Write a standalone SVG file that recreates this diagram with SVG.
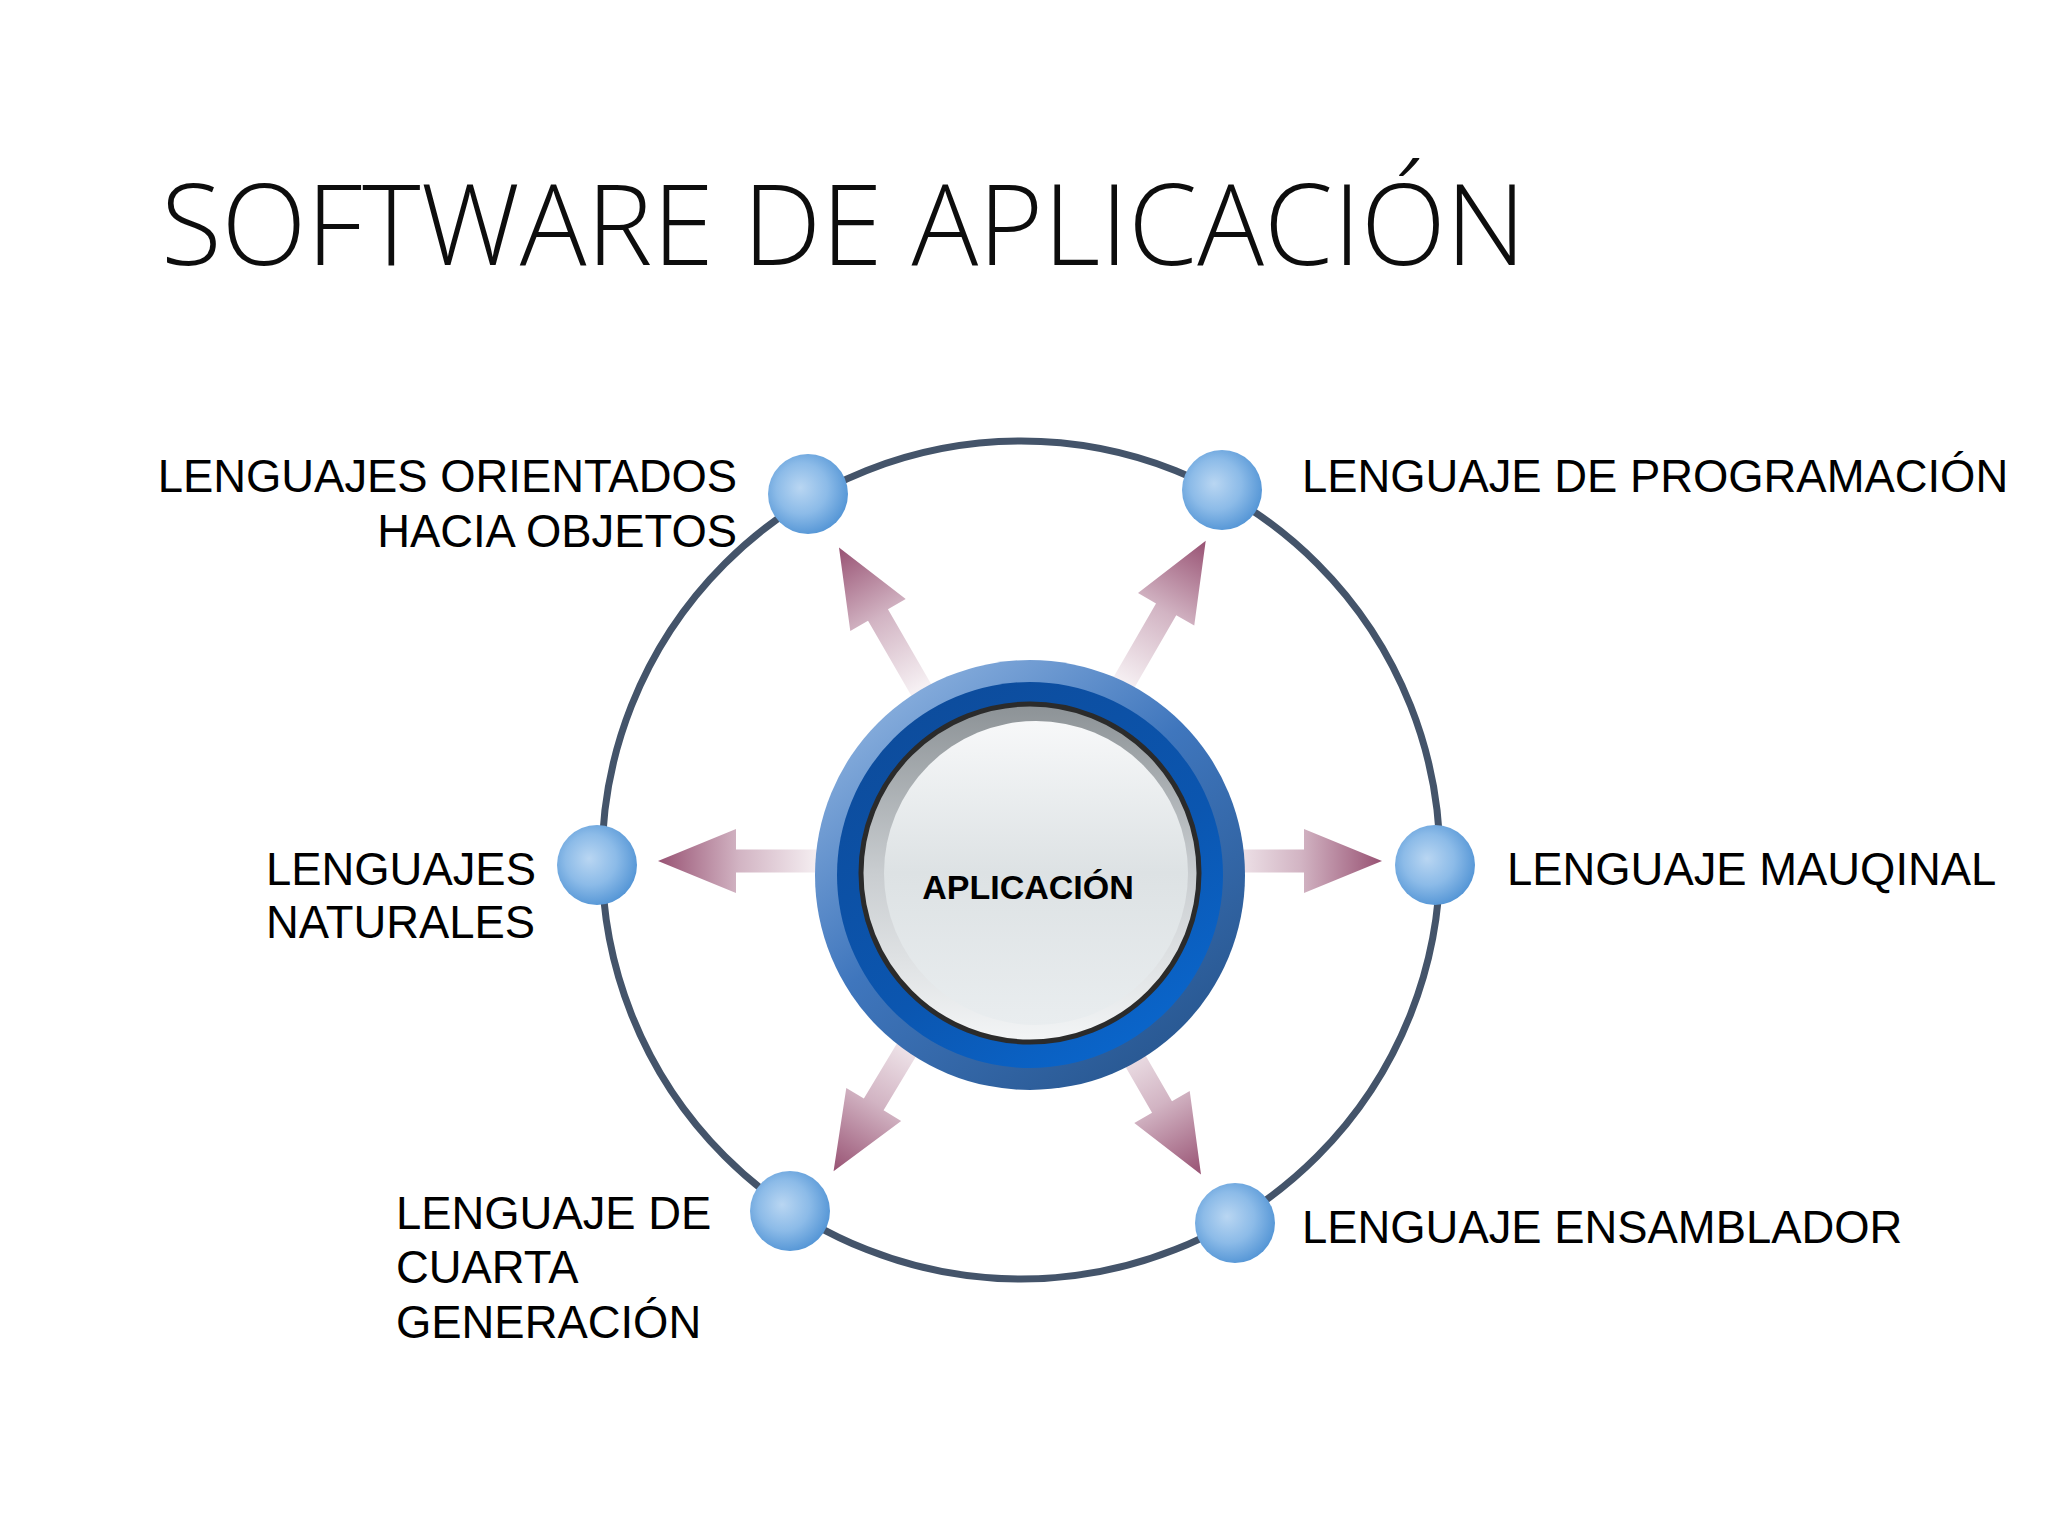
<svg xmlns="http://www.w3.org/2000/svg" width="2048" height="1536" viewBox="0 0 2048 1536">
<defs>
<style>
.title{font-family:"Open Sans","Liberation Sans",sans-serif;font-weight:300;font-size:112px;fill:#0d0d0d}
.lbl{font-family:"Liberation Sans",Arial,sans-serif;font-size:45.4px;fill:#000}
.ctr{font-family:"Liberation Sans",Arial,sans-serif;font-size:34px;font-weight:bold;fill:#000}
.ball{fill:url(#gBall)}
.orbit{fill:none;stroke:#44546a;stroke-width:7}
</style>
<radialGradient id="gBall" cx="0.44" cy="0.44" r="0.58" fx="0.4" fy="0.42">
<stop offset="0" stop-color="#b9d6f2"/>
<stop offset="0.55" stop-color="#8cbbe8"/>
<stop offset="1" stop-color="#5596d6"/>
</radialGradient>
<linearGradient id="gArrow" gradientUnits="userSpaceOnUse" x1="200" y1="0" x2="362" y2="0">
<stop offset="0" stop-color="#f6f0f3"/>
<stop offset="0.5" stop-color="#d2b4c3"/>
<stop offset="1" stop-color="#985273"/>
</linearGradient>
<linearGradient id="gOuter" x1="0.15" y1="0.05" x2="0.85" y2="0.95">
<stop offset="0" stop-color="#8db2df"/>
<stop offset="0.45" stop-color="#3f76bd"/>
<stop offset="1" stop-color="#27568f"/>
</linearGradient>
<linearGradient id="gInner" x1="0.2" y1="0.05" x2="0.8" y2="0.95">
<stop offset="0" stop-color="#0d4c9c"/>
<stop offset="0.6" stop-color="#0b56b0"/>
<stop offset="1" stop-color="#0a66cc"/>
</linearGradient>
<linearGradient id="gSilver" x1="0" y1="0" x2="0" y2="1">
<stop offset="0" stop-color="#8c9296"/>
<stop offset="0.5" stop-color="#c9cdd0"/>
<stop offset="1" stop-color="#f3f5f6"/>
</linearGradient>
<linearGradient id="gFace" x1="0" y1="0" x2="0" y2="1">
<stop offset="0" stop-color="#f7f8f9"/>
<stop offset="0.5" stop-color="#dde2e4"/>
<stop offset="1" stop-color="#e9edef"/>
</linearGradient>
<path id="arrow" d="M150,-11.5 H284 V-32 L362,0 L284,32 V11.5 H150 Z" fill="url(#gArrow)"/>
</defs>
<rect width="2048" height="1536" fill="#ffffff"/>
<text class="title" x="161" y="265" textLength="1365" lengthAdjust="spacingAndGlyphs">SOFTWARE DE APLICACIÓN</text>
<g id="orbit">
<circle class="orbit" cx="1021" cy="860" r="419"/>
</g>
<g id="connectors">
<use href="#arrow" transform="translate(1020,861) rotate(180)"/>
<use href="#arrow" transform="translate(1020,861) rotate(-120)"/>
<use href="#arrow" transform="translate(1022,859) rotate(-60) scale(1.015)"/>
<use href="#arrow" transform="translate(1020,861) rotate(0)"/>
<use href="#arrow" transform="translate(1020,861) rotate(60)"/>
<use href="#arrow" transform="translate(1020,861) rotate(121)"/>
</g>
<g id="node-center">
<circle cx="1030" cy="875" r="215" fill="url(#gOuter)"/>
<circle cx="1030" cy="875" r="193" fill="url(#gInner)"/>
<circle cx="1030" cy="873" r="169" fill="url(#gSilver)" stroke="#2b2b2b" stroke-width="5"/>
<circle cx="1036" cy="873" r="152" fill="url(#gFace)"/>
<text class="ctr" x="1028" y="899" text-anchor="middle">APLICACIÓN</text>
</g>
<g id="node-oop">
<circle class="ball" cx="808" cy="494" r="40"/>
<text class="lbl" x="737" y="492" text-anchor="end">LENGUAJES ORIENTADOS</text>
<text class="lbl" x="737" y="547" text-anchor="end">HACIA OBJETOS</text>
</g>
<g id="node-programacion">
<circle class="ball" cx="1222" cy="490" r="40"/>
<text class="lbl" x="1302" y="492">LENGUAJE DE PROGRAMACIÓN</text>
</g>
<g id="node-naturales">
<circle class="ball" cx="597" cy="865" r="40"/>
<text class="lbl" x="266" y="885">LENGUAJES</text>
<text class="lbl" x="266" y="938">NATURALES</text>
</g>
<g id="node-maquinal">
<circle class="ball" cx="1435" cy="865" r="40"/>
<text class="lbl" x="1507" y="885">LENGUAJE MAUQINAL</text>
</g>
<g id="node-cuarta">
<circle class="ball" cx="790" cy="1211" r="40"/>
<text class="lbl" x="396" y="1229">LENGUAJE DE</text>
<text class="lbl" x="396" y="1283">CUARTA</text>
<text class="lbl" x="396" y="1338">GENERACIÓN</text>
</g>
<g id="node-ensamblador">
<circle class="ball" cx="1235" cy="1223" r="40"/>
<text class="lbl" x="1302" y="1243">LENGUAJE ENSAMBLADOR</text>
</g>
</svg>
